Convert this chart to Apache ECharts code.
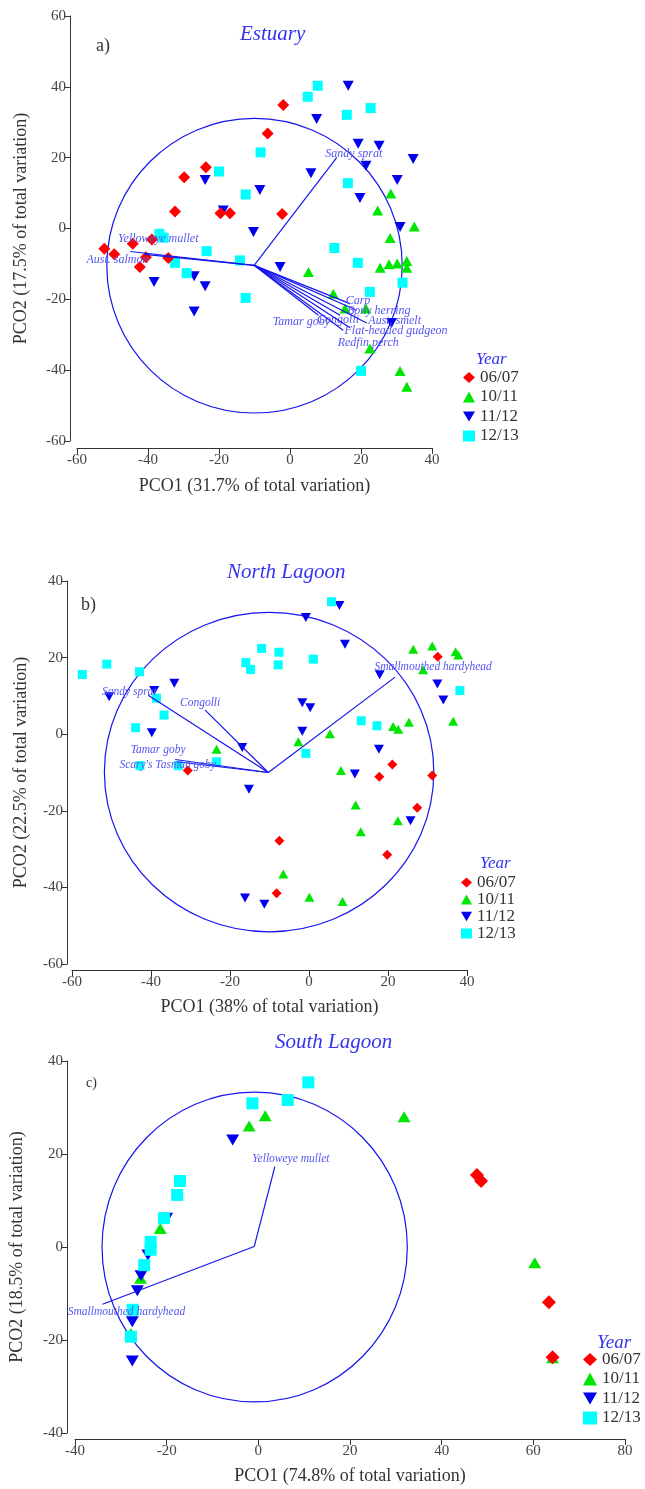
<!DOCTYPE html>
<html>
<head>
<meta charset="utf-8">
<title>PCO plots</title>
<script src="https://cdn.jsdelivr.net/npm/echarts@6/dist/echarts.min.js"></script>
<style>html,body{margin:0;padding:0;background:#fff;}</style>
</head>
<body>
<div id="main" style="width:645px;height:1489px;"></div>
<script type="text/javascript">
// ---- data ----
var years = ['06/07', '10/11', '11/12', '12/13'];

// a) Estuary
var estuary0607 = [[-1.9,34.9],[-6.3,26.8],[-23.7,17.3],[-29.8,14.5],[-32.4,4.8],[-19.6,4.3],[-16.9,4.3],[-2.2,4.1],
  [-52.3,-5.7],[-49.5,-7.3],[-44.3,-4.3],[-38.9,-3.1],[-40.6,-8.1],[-42.3,-10.9],[-34.3,-8.3]];
var estuary1011 = [[28.4,9.9],[24.7,5.1],[35,0.6],[28.2,-2.7],[5.2,-12.3],[25.4,-11.1],[27.9,-10.1],[30.2,-9.9],
  [32.9,-9.2],[32.9,-11.1],[12.2,-18.4],[15.5,-22.6],[21.4,-22.6],[22.5,-33.9],[31,-40.2],[32.9,-44.7]];
var estuary1112 = [[16.4,40.3],[7.5,30.9],[19.2,23.9],[25.1,23.4],[34.7,19.6],[21.4,17.7],[5.9,15.6],[30.2,13.7],
  [-23.9,13.7],[-8.5,10.9],[19.7,8.6],[-18.8,5.1],[-10.3,-1],[31,0.4],[-2.8,-10.9],[-38.3,-15.1],[-27,-13.5],
  [-23.9,-16.3],[-27,-23.4],[28.6,-26.7]];
var estuary1213 = [[7.8,40.3],[5,37.2],[22.7,34],[16,32.1],[-8.3,21.5],[-20,16.1],[16.3,12.8],[-12.5,9.6],
  [-36.8,-1.5],[-35.6,-2.6],[-23.5,-6.4],[-32.4,-9.7],[-29.1,-12.6],[-14.1,-9],[-12.5,-19.6],[12.5,-5.5],[19.1,-9.7],
  [22.5,-17.9],[31.7,-15.3],[20,-40.2]];
var estuaryCircle = [-10, -10.5, 41.6];
var estuaryVecOrigin = [-10.1, -10.4];
var estuaryVecNames = ['Sandy sprat', 'Yelloweye mullet', 'Aust. salmon', 'Carp', 'Bony herring', 'Congolli',
  'Aust. smelt', 'Flat-headed gudgeon', 'Redfin perch', 'Tamar goby'];
var estuaryVecEnds = [[13.2,20.1],[-45,-6.5],[-41,-7.3],[16.9,-21.2],[18.8,-23.1],[14.1,-24.5],
  [21.6,-26.7],[16.9,-28],[15,-28.7],[8,-24.5]];

// b) North Lagoon
var north0607 = [[32.6,20.2],[-30.7,-9.5],[21.1,-7.9],[17.8,-11.1],[31.2,-10.8],[27.4,-19.2],[-7.5,-27.8],
  [19.8,-31.5],[-8.2,-41.5]];
var north1011 = [[26.4,22.2],[31.2,23],[37.1,21.5],[37.8,20.7],[28.9,16.8],[25.3,3.1],[21.3,2],[22.6,1.3],
  [36.5,3.4],[5.3,0.1],[-2.7,-2],[-23.4,-3.9],[8.1,-9.5],[11.8,-18.5],[13.1,-25.5],[22.5,-22.6],[-6.5,-36.5],
  [0.1,-42.6],[8.5,-43.7]];
var north1112 = [[7.7,33.6],[-0.8,30.5],[9.1,23.5],[17.9,15.5],[32.5,13.1],[34,8.9],[-34.1,13.3],[-39.2,11.4],
  [-50.6,9.8],[-1.7,8.2],[0.3,6.9],[-39.8,0.4],[-1.7,0.8],[-16.9,-3.5],[17.7,-3.9],[11.6,-10.4],[-15.2,-14.4],
  [25.7,-22.6],[-16.2,-42.8],[-11.3,-44.4]];
var north1213 = [[5.7,34.6],[-57.4,15.6],[-51.2,18.3],[-42.9,16.3],[-12,22.4],[-7.6,21.4],[-16,18.7],[-14.8,16.9],
  [-7.8,18.1],[1.1,19.6],[-38.6,9.4],[-36.7,5],[-43.9,1.7],[13.2,3.5],[17.2,2.2],[-0.8,-5],[38.2,11.4],
  [-42.8,-8.2],[-33.1,-8.2],[-23.4,-7.2]];
var northCircle = [-10.1, -9.9, 41.7];
var northVecOrigin = [-10.3, -10];
var northVecNames = ['Sandy sprat', 'Congolli', 'Tamar goby', "Scary's Tasman goby", 'Smallmouthed hardyhead'];
var northVecEnds = [[-40.7,10.2],[-26.3,6.3],[-33.9,-6.6],[-33.5,-7.2],[21.8,14.9]];

// c) South Lagoon
var south0607 = [[47.7,15.5],[48.6,14.2],[63.4,-11.9],[64.2,-23.7]];
var south1011 = [[1.5,28.2],[-2,26],[31.8,28],[-21.4,4],[-25.7,-6.7],[-27.8,-18.6],[60.3,-3.4],[64.2,-23.8]];
var south1112 = [[-5.6,23],[-20,6.2],[-24.1,-1.7],[-25.6,-6.2],[-26.4,-9.4],[-27.5,-16.1],[-27.5,-24.5]];
var south1213 = [[10.9,35.4],[6.4,31.6],[-1.3,30.9],[-17.1,14.2],[-17.7,11.2],[-20.6,6.2],[-23.5,1.1],
  [-23.5,-0.6],[-24.9,-3.9],[-27.4,-13.5],[-27.8,-19.3]];
var southCircle = [-0.8, 0, 33.3];
var southVecOrigin = [-0.9, 0.1];
var southVecNames = ['Yelloweye mullet', 'Smallmouthed hardyhead'];
var southVecEnds = [[3.6,17.3],[-34,-12.3]];

// ---- styling ----
var FONT = '"Liberation Serif", "DejaVu Serif", serif';
var BLUE = '#1515ee';
var LABEL_BLUE = '#5656f2';
var TITLE_BLUE = '#3434ee';
var TRI_DOWN = 'path://M0,0L20,0L10,17Z';
var yearStyle = {
  '06/07': {color: '#ff0000', symbol: 'diamond'},
  '10/11': {color: '#00e600', symbol: 'triangle'},
  '11/12': {color: '#0000ee', symbol: TRI_DOWN},
  '12/13': {color: '#00ffff', symbol: 'rect'}
};
// symbol sizes per panel
var symSizes = [
  {'06/07': [12,12], '10/11': [11,10], '11/12': [11,10], '12/13': [10,10]},
  {'06/07': [10,10], '10/11': [10,9], '11/12': [10,9], '12/13': [9,9]},
  {'06/07': [14,14], '10/11': [13,11], '11/12': [13,11], '12/13': [12,12]}
];
// label offsets (px) from the vector tips
var estuaryLabelOff = [[17,-3],[28,-13],[-27,5],[8,-3],[22,1],[-2,5],[28,-2],[46,3],[25,13],[-17,7]];
var northLabelOff = [[-19,-3],[-5,-7],[-17,-9],[-9,3],[38,-10]];
var southLabelOff = [[16,-8],[24,8]];

function xAx(idx, min, max, name, gap, off) {
  return {
    gridIndex: idx, type: 'value', min: min, max: max, interval: 20, offset: off,
    name: name, nameLocation: 'middle', nameGap: gap,
    nameTextStyle: {fontFamily: FONT, fontSize: 18, color: '#333'},
    axisLine: {onZero: false, lineStyle: {color: '#333', width: 1}},
    axisTick: {length: 6, lineStyle: {color: '#333'}},
    axisLabel: {fontFamily: FONT, fontSize: 15, color: '#444', margin: 5},
    splitLine: {show: false}
  };
}
function yAx(idx, min, max, name, gap, off) {
  var a = xAx(idx, min, max, name, gap, off);
  a.axisLabel.margin = 4;
  return a;
}

function circleSeries(idx, c) {
  return {
    type: 'custom', xAxisIndex: idx, yAxisIndex: idx, z: 2, silent: true,
    data: [c],
    renderItem: function (params, api) {
      var p = api.coord([api.value(0), api.value(1)]);
      var s = api.size([api.value(2), api.value(2)]);
      return {type: 'ellipse', shape: {cx: p[0], cy: p[1], rx: s[0], ry: s[1]},
        style: {fill: 'none', stroke: BLUE, lineWidth: 1.2}};
    }
  };
}

function vecSeries(idx, origin, ends, names, offs, fontSize) {
  return {
    type: 'custom', xAxisIndex: idx, yAxisIndex: idx, z: 5, silent: true,
    data: ends.map(function (e, i) { return [origin[0], origin[1], e[0], e[1], i]; }),
    renderItem: function (params, api) {
      var p0 = api.coord([api.value(0), api.value(1)]);
      var p1 = api.coord([api.value(2), api.value(3)]);
      var i = api.value(4);
      var o = offs[i];
      return {type: 'group', children: [
        {type: 'line', shape: {x1: p0[0], y1: p0[1], x2: p1[0], y2: p1[1]},
          style: {stroke: BLUE, lineWidth: 1.2}},
        {type: 'text', x: p1[0] + o[0], y: p1[1] + o[1],
          style: {text: names[i], fill: LABEL_BLUE, font: 'italic ' + fontSize + 'px ' + FONT,
            align: 'center', verticalAlign: 'middle'}}
      ]};
    }
  };
}

function pointSeries(idx, sets) {
  // draw order: green, blue, cyan, red on top
  var order = ['10/11', '11/12', '12/13', '06/07'];
  return order.map(function (y) {
    return {
      type: 'scatter', name: y, xAxisIndex: idx, yAxisIndex: idx, z: 3,
      data: sets[y], symbol: yearStyle[y].symbol, symbolSize: symSizes[idx][y],
      itemStyle: {color: yearStyle[y].color, opacity: 1},
      emphasis: {disabled: true}
    };
  });
}

function legendAt(left, top, w, h, gap, fs) {
  return {
    orient: 'vertical', left: left, top: top, padding: 0, itemWidth: w, itemHeight: h, itemGap: gap,
    data: years, selectedMode: false,
    textStyle: {fontFamily: FONT, fontSize: fs, color: '#333', padding: [0, 0, 0, 0]}
  };
}

function titleAt(text, left, top, fs, italic, color) {
  return {text: text, left: left, top: top, padding: 0,
    textStyle: {fontFamily: FONT, fontSize: fs, fontStyle: italic ? 'italic' : 'normal',
      fontWeight: 'normal', color: color}};
}

var myChart = echarts.init(document.getElementById('main'));

var series = [];
series.push(circleSeries(0, estuaryCircle));
series.push(circleSeries(1, northCircle));
series.push(circleSeries(2, southCircle));
series = series.concat(pointSeries(0, {'06/07': estuary0607, '10/11': estuary1011, '11/12': estuary1112, '12/13': estuary1213}));
series = series.concat(pointSeries(1, {'06/07': north0607, '10/11': north1011, '11/12': north1112, '12/13': north1213}));
series = series.concat(pointSeries(2, {'06/07': south0607, '10/11': south1011, '11/12': south1112, '12/13': south1213}));
series.push(vecSeries(0, estuaryVecOrigin, estuaryVecEnds, estuaryVecNames, estuaryLabelOff, 12));
series.push(vecSeries(1, northVecOrigin, northVecEnds, northVecNames, northLabelOff, 11.5));
series.push(vecSeries(2, southVecOrigin, southVecEnds, southVecNames, southLabelOff, 11.5));

var option = {
  backgroundColor: '#fff',
  animation: false,
  title: [
    titleAt('Estuary', 240, 24, 21, true, TITLE_BLUE),
    titleAt('a)', 96, 37, 18, false, '#333'),
    titleAt('Year', 476, 351, 17, true, TITLE_BLUE),
    titleAt('North Lagoon', 227, 562, 21, true, TITLE_BLUE),
    titleAt('b)', 81, 596, 18, false, '#333'),
    titleAt('Year', 480, 855, 17, true, TITLE_BLUE),
    titleAt('South Lagoon', 275, 1032, 21, true, TITLE_BLUE),
    titleAt('c)', 86, 1076, 14, false, '#333'),
    titleAt('Year', 597, 1333, 19, true, TITLE_BLUE)
  ],
  legend: [
    legendAt(463, 369, 12, 11, 2.5, 17),
    legendAt(461, 874, 11, 10, 0, 17),
    legendAt(583, 1351, 14, 13, 2.5, 17)
  ],
  grid: [
    {left: 77, top: 16, width: 355, height: 425},
    {left: 72, top: 581, width: 395, height: 383},
    {left: 75, top: 1061, width: 550, height: 372}
  ],
  xAxis: [
    xAx(0, -60, 40, 'PCO1 (31.7% of total variation)', 29, 7),
    xAx(1, -60, 40, 'PCO1 (38% of total variation)', 28, 6),
    xAx(2, -40, 80, 'PCO1 (74.8% of total variation)', 28, 6)
  ],
  yAxis: [
    yAx(0, -60, 60, 'PCO2 (17.5% of total variation)', 40, 7),
    yAx(1, -60, 40, 'PCO2 (22.5% of total variation)', 37, 5),
    yAx(2, -40, 40, 'PCO2 (18.5% of total variation)', 41, 8)
  ],
  series: series
};
myChart.setOption(option);
</script>
</body>
</html>
